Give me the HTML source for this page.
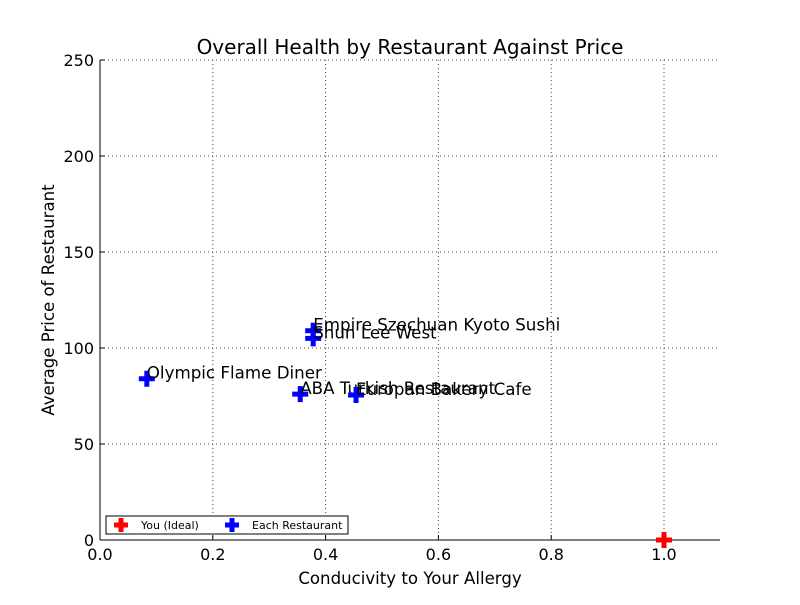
<!DOCTYPE html>
<html><head><meta charset="utf-8"><style>
body{margin:0;background:#fff;}
svg{font-family:"DejaVu Sans","Liberation Sans",sans-serif;}
</style></head><body>
<svg id="chart" width="800" height="600">
<rect width="800" height="600" fill="#fff"/>
<text x="410" y="54" font-size="20" text-anchor="middle">Overall Health by Restaurant Against Price</text>
<g id="grid"></g>
<g id="ticks"></g>
<line x1="100" y1="60" x2="100" y2="540" stroke="#000"/>
<line x1="100" y1="540" x2="720" y2="540" stroke="#000"/>
<g id="marks"></g>
<text x="410" y="584" font-size="16.6" text-anchor="middle">Conducivity to Your Allergy</text>
<text transform="translate(54,300) rotate(-90)" font-size="16.6" text-anchor="middle">Average Price of Restaurant</text>
<g>
<rect x="106" y="516" width="242" height="18" fill="#fff" stroke="#000"/>
<g>
<path d="M114 525h14M121 518v14" stroke="#f00" stroke-width="5"/>
<text x="141" y="529" font-size="11">You (Ideal)</text></g>
<g>
<path d="M225 525h14M232 518v14" stroke="#00f" stroke-width="5"/>
<text x="252" y="529" font-size="11">Each Restaurant</text></g>
</g>
</svg>
<script>
const names=["Olympic Flame Diner","Empire Szechuan Kyoto Sushi","Shun Lee West","ABA Turkish Restaurant","Europan Bakery Cafe"];
const xVals=[0.083,0.378,0.378,0.355,0.454];
const yVals=[84,109,105,76,75.5];
const idealX=[1.0];
const idealY=[0];
const xTicks=[0,0.2,0.4,0.6,0.8,1.0];
const yTicks=[0,50,100,150,200,250];
const NS="http://www.w3.org/2000/svg";
const sx=v=>100+v*564, sy=v=>540-v*1.92;
function mk(t,a,p){const e=document.createElementNS(NS,t);for(const k in a)e.setAttribute(k,a[k]);p.appendChild(e);return e;}
const grid=document.getElementById('grid'),ticks=document.getElementById('ticks'),marks=document.getElementById('marks');
xTicks.forEach(v=>{const x=sx(v);
 const g=mk('line',{x1:x,x2:x,y1:60,y2:540,stroke:'#444','stroke-dasharray':'1,3','stroke-width':1},grid);
 
 
 mk('line',{x1:x,x2:x,y1:540,y2:535,stroke:'#000'},ticks);
 const t=mk('text',{x:x,y:560,'font-size':16,'text-anchor':'middle'},ticks);t.textContent=v.toFixed(1);
 
 
});
yTicks.forEach(v=>{const y=sy(v);
 const g=mk('line',{x1:100,x2:720,y1:y,y2:y,stroke:'#444','stroke-dasharray':'1,3','stroke-width':1},grid);
 
 
 mk('line',{x1:100,x2:105,y1:y,y2:y,stroke:'#000'},ticks);
 const t=mk('text',{x:94,y:y+6,'font-size':16,'text-anchor':'end'},ticks);t.textContent=v;
 
 
});
function plus(x,y,c,p){return mk('path',{d:`M${x-8} ${y}h16M${x} ${y-8}v16`,stroke:c,'stroke-width':5},p);}
idealX.forEach((v,i)=>{const m=plus(sx(v),sy(idealY[i]),'#f00',marks);
 
 });
names.forEach((n,i)=>{const x=sx(xVals[i]),y=sy(yVals[i]);
 const m=plus(x,y,'#00f',marks);
 
 
 const t=mk('text',{x:x,y:y,'font-size':16.7},marks);t.textContent=n;
 
 
});
</script>
</body></html>
